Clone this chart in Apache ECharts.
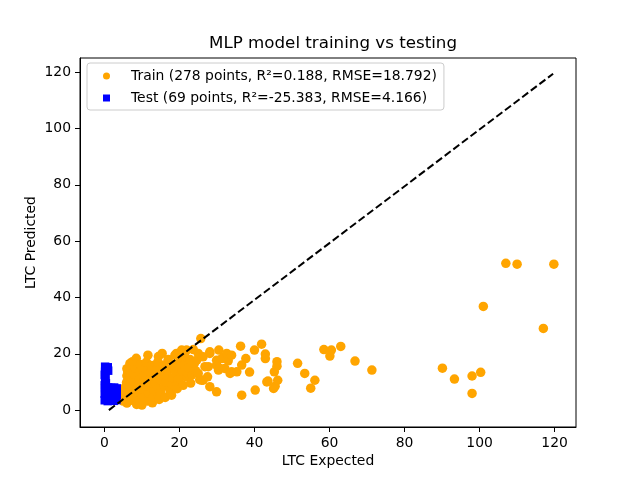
<!DOCTYPE html>
<html>
<head>
<meta charset="utf-8">
<script src="https://cdn.jsdelivr.net/npm/echarts@6/dist/echarts.min.js"></script>
<style>
  html, body { margin: 0; padding: 0; background: #fff; }
  #chart { width: 640px; height: 480px; }
</style>
</head>
<body>
<div id="chart"></div>
<script>
// tick values shown on both axes
var tickValues = [0, 20, 40, 60, 80, 100, 120];

// ideal prediction line as it appears in the picture
var idealLine = [[1.2, 0], [119.6, 119.4]];

// train points: [LTC expected, LTC predicted]
var trainPoints = [
  [4.0, 4.5], [4.2, 7.0], [5.9, 9.8], [6.0, 12.2], [5.0, 3.2], [5.2, 5.5], [5.5, 8.0],
  [6.3, 10.9], [6.2, 13.5], [6.0, 14.7], [6.0, 2.5], [6.2, 4.8], [6.4, 6.8], [6.6, 9.0],
  [6.8, 11.5], [6.8, 16.5], [7.0, 14.2], [7.2, 16.0], [7.3, 3.5], [7.5, 5.8], [7.5, 17.2],
  [7.6, 8.2], [7.8, 10.2], [8.0, 12.6], [8.2, 15.0], [8.3, 17.5], [8.5, 18.4], [8.6, 2.0],
  [8.8, 4.2], [9.0, 6.5], [9.2, 9.0], [9.3, 11.2], [9.4, 3.5], [9.5, 13.8], [9.7, 16.2],
  [10.0, 1.8], [10.2, 5.0], [10.4, 7.4], [10.5, 10.0], [10.7, 12.5], [11.0, 14.8],
  [11.2, 17.0], [11.6, 19.5], [11.5, 3.2], [11.8, 6.0], [12.0, 8.5], [12.2, 11.0],
  [12.4, 13.4], [12.6, 15.8], [12.8, 2.6], [13.0, 4.8], [13.2, 7.0], [13.5, 9.6],
  [13.7, 12.0], [14.0, 14.5], [14.2, 17.0], [14.4, 19.0], [14.3, 7.7], [14.6, 3.8],
  [14.8, 10.8], [15.0, 6.2], [15.4, 20.1], [15.5, 13.0], [15.8, 16.0], [16.0, 8.5],
  [16.2, 4.5], [16.5, 10.0], [16.8, 12.2], [17.0, 18.0], [17.2, 14.6], [17.5, 6.8],
  [17.9, 5.3], [18.0, 9.2], [18.2, 11.5], [18.5, 16.2], [18.8, 19.5], [19.0, 13.5],
  [19.2, 20.1], [19.4, 7.6], [19.6, 10.5], [19.8, 15.0], [20.1, 11.2], [20.3, 17.5],
  [20.6, 21.3], [20.8, 13.8], [21.0, 8.8], [21.2, 16.0], [21.5, 19.0], [21.9, 21.3],
  [22.0, 11.8], [22.3, 13.0], [22.5, 15.2], [22.8, 18.0], [23.0, 9.6], [23.3, 12.5],
  [23.7, 21.5], [24.0, 16.6], [24.3, 14.0], [24.6, 17.7], [25.0, 20.1], [25.0, 13.0],
  [25.4, 10.8], [25.7, 25.4], [25.9, 10.6], [26.3, 18.9], [26.3, 10.6], [26.8, 15.4],
  [27.5, 11.8], [27.7, 15.4], [28.1, 20.1], [28.1, 8.3], [28.1, 20.7], [29.9, 16.0],
  [29.9, 17.7], [29.9, 6.5], [30.4, 14.2], [30.5, 21.3], [30.8, 14.8], [31.3, 18.3],
  [32.1, 14.8], [32.6, 20.1], [33.0, 17.5], [33.5, 13.0], [33.9, 19.5], [33.9, 13.6],
  [35.3, 13.6], [36.3, 22.7], [36.6, 16.0], [36.6, 5.3], [37.7, 18.3], [38.7, 13.5],
  [40.0, 21.3], [40.2, 7.1], [41.9, 23.4], [42.9, 19.9], [42.9, 18.3], [43.3, 10.0],
  [43.6, 10.3], [45.1, 7.7], [45.3, 13.6], [45.5, 8.5], [46.0, 17.2], [46.0, 15.6],
  [46.2, 10.6], [51.5, 16.6], [53.4, 13.0], [55.0, 7.8], [56.1, 10.6], [58.5, 21.5],
  [60.1, 19.2], [60.5, 21.3], [63.0, 22.6], [66.8, 17.4], [71.3, 14.2], [90.1, 14.9],
  [93.3, 11.0], [98.0, 12.1], [98.0, 5.9], [100.3, 13.4], [101.0, 36.8], [107.0, 52.1],
  [110.0, 51.8], [117.0, 29.0], [119.8, 51.8]
];

// test points: [LTC expected, LTC predicted]
var testPoints = [
  [0.2, 15.4], [0.9, 15.2], [0.5, 14.5], [1.0, 14.0], [0.2, 13.6],
  [0.1, 12.5], [0.3, 11.5], [0.2, 10.5], [0.4, 9.5], [0.1, 8.8],
  [0.2, 7.8], [1.0, 8.0], [1.8, 7.9], [2.6, 8.0], [3.3, 7.7],
  [0.5, 6.8], [1.4, 6.7], [2.2, 6.9], [3.0, 6.6],
  [0.1, 5.8], [0.9, 5.6], [1.7, 5.7], [2.5, 5.5], [3.3, 5.4],
  [0.5, 4.6], [1.3, 4.5], [2.1, 4.4], [2.9, 4.3],
  [0.1, 3.5], [0.9, 3.2], [1.7, 3.4], [2.5, 3.3], [3.2, 3.6]
];

var trainName = 'Train (278 points, R\u00b2=0.188, RMSE=18.792)';
var testName = 'Test (69 points, R\u00b2=-25.383, RMSE=4.166)';

var font = 'DejaVu Sans';
var chart = echarts.init(document.getElementById('chart'));

function axis(min, max, name, gap) {
  return {
    type: 'value',
    min: min,
    max: max,
    name: name,
    nameLocation: 'middle',
    nameGap: gap,
    nameMoveOverlap: false,
    nameTextStyle: { fontFamily: font, fontSize: 13.9, color: '#000' },
    axisLine: { show: true, onZero: false, lineStyle: { color: '#000', width: 1 } },
    axisTick: { show: true, inside: false, length: 5, customValues: tickValues, lineStyle: { color: '#000', width: 1 } },
    axisLabel: { customValues: tickValues, margin: 9, fontFamily: font, fontSize: 13.9, color: '#000' },
    splitLine: { show: false }
  };
}

var option = {
  animation: false,
  backgroundColor: '#fff',
  title: {
    text: 'MLP model training vs testing',
    left: 328,
    textAlign: 'center',
    top: 30,
    textStyle: { fontFamily: font, fontSize: 16.7, fontWeight: 'normal', color: '#000' }
  },
  legend: {
    orient: 'vertical',
    left: 87,
    top: 63,
    padding: [5, 7, 4, 16],
    itemWidth: 7,
    itemHeight: 7,
    itemGap: 6,
    borderColor: '#cccccc',
    borderWidth: 1,
    borderRadius: 3,
    backgroundColor: 'rgba(255,255,255,0.8)',
    formatter: function (name) { return '{t|' + name + '}'; },
    textStyle: {
      fontFamily: font, fontSize: 13.9, color: '#000', lineHeight: 16,
      rich: { t: { fontFamily: font, fontSize: 13.9, color: '#000', lineHeight: 16, padding: [0, 0, 0, 16] } }
    },
    data: [
      { name: trainName, icon: 'circle' },
      { name: testName, icon: 'rect' }
    ]
  },
  grid: {
    left: 80,
    right: 64,
    top: 58,
    bottom: 53,
    show: true,
    borderColor: '#000',
    borderWidth: 1,
    backgroundColor: 'transparent'
  },
  xAxis: axis(-6.5, 125.7, 'LTC Expected', 27),
  yAxis: axis(-6, 125, 'LTC Predicted', 42),
  series: [
    {
      name: trainName,
      type: 'scatter',
      data: trainPoints,
      symbol: 'circle',
      symbolSize: 9.5,
      itemStyle: { color: '#FFA500', opacity: 1 },
      z: 2
    },
    {
      name: testName,
      type: 'scatter',
      data: testPoints,
      symbol: 'rect',
      symbolSize: 8.5,
      itemStyle: { color: '#0000FF', opacity: 1 },
      z: 3
    },
    {
      type: 'line',
      data: idealLine,
      symbol: 'none',
      lineStyle: { color: '#000', width: 2, type: [7.5, 3.3] },
      z: 4
    }
  ]
};

chart.setOption(option);
</script>
</body>
</html>
